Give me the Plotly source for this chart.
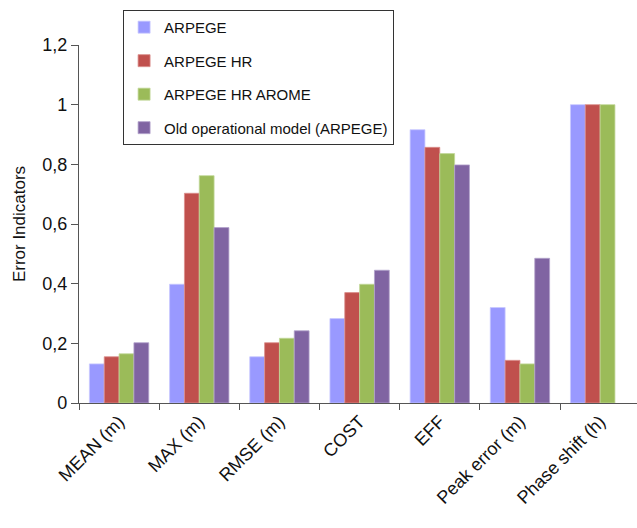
import plotly.graph_objects as go

categories = ["MEAN (m)", "MAX (m)", "RMSE (m)", "COST", "EFF", "Peak error (m)", "Phase shift (h)"]
series_names = ["ARPEGE", "ARPEGE HR", "ARPEGE HR AROME", "Old operational model (ARPEGE)"]

arpege = [0.131, 0.398, 0.155, 0.283, 0.916, 0.320, 1.0]
arpege_hr = [0.155, 0.703, 0.202, 0.370, 0.857, 0.143, 1.0]
arpege_hr_arome = [0.165, 0.762, 0.217, 0.398, 0.836, 0.131, 1.0]
old_model = [0.202, 0.588, 0.242, 0.445, 0.798, 0.485, None]

colors = ["#9999FF", "#C0504D", "#9BBB59", "#8064A2"]
edge_colors = ["#C8C8FF", "#DA8E8C", "#C3D89A", "#B3A2CB"]

font = "Arial, Liberation Sans, sans-serif"

fig = go.Figure()
for i, vals in enumerate([arpege, arpege_hr, arpege_hr_arome, old_model]):
    fig.add_trace(go.Bar(
        x=categories,
        y=vals,
        name=series_names[i],
        legendgroup=str(i),
        marker=dict(color=colors[i], line=dict(color=edge_colors[i], width=0.8)),
    ))

# the last group runs slightly past the right edge, as in the original figure
fig.update_layout(
    width=637,
    height=528,
    margin=dict(l=79, r=0, t=45, b=125, pad=0),
    paper_bgcolor="white",
    plot_bgcolor="white",
    separators=", ",
    font=dict(family=font, size=16, color="#111111"),
    barmode="group",
    bargap=0.26,
    bargroupgap=0,
    showlegend=True,
    legend=dict(
        x=0.079, y=1.098, xanchor="left", yanchor="top",
        bordercolor="#333333", borderwidth=1,
        font=dict(size=15, family=font),
        traceorder="grouped",
        tracegroupgap=11,
        bgcolor="white",
        itemwidth=30,
    ),
    xaxis=dict(
        range=[-0.5, 6.46],
        showline=True, linecolor="#555555", linewidth=1.2,
        ticks="outside", tickson="boundaries", ticklen=6, tickcolor="#555555",
        tickangle=-45, tickfont=dict(size=18),
        showgrid=False, automargin=False,
    ),
    yaxis=dict(
        range=[0, 1.2], dtick=0.2, tickformat=".1~f",
        showline=True, linecolor="#555555", linewidth=1.2,
        ticks="outside", ticklen=7, tickcolor="#555555",
        showgrid=False, zeroline=False, automargin=False,
        tickfont=dict(size=18),
        title=dict(text="Error Indicators", font=dict(size=17), standoff=12),
    ),
)

fig.write_html("out.html", config={"displayModeBar": False},
               post_script="document.body.style.margin='0';")
